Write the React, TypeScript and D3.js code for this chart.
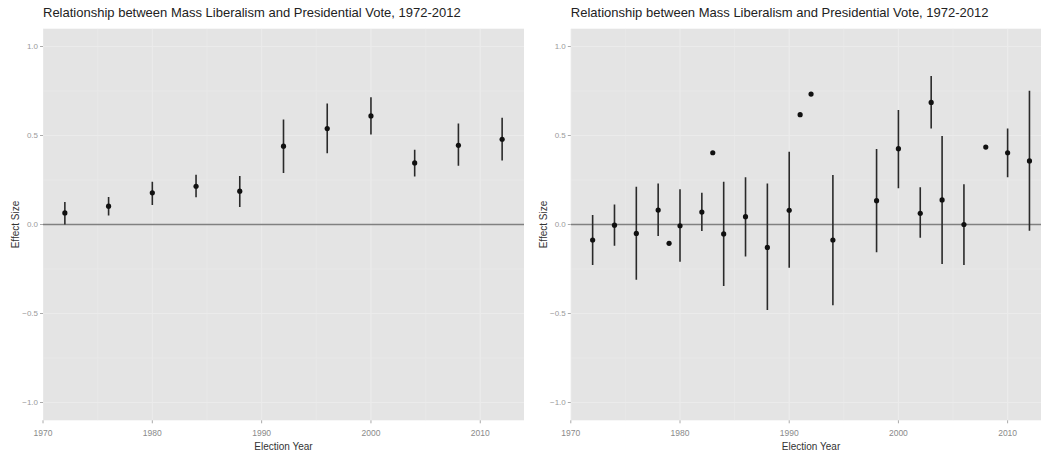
import React from "react";
import * as d3 from "d3";

// National-level estimates (presidential election years)
const leftYears = [1972, 1976, 1980, 1984, 1988, 1992, 1996, 2000, 2004, 2008, 2012];
const leftEst = [0.065, 0.103, 0.178, 0.215, 0.187, 0.44, 0.539, 0.61, 0.346, 0.445, 0.479];
const leftLow = [0.0, 0.05, 0.11, 0.153, 0.099, 0.29, 0.4, 0.506, 0.27, 0.33, 0.36];
const leftHigh = [0.127, 0.155, 0.24, 0.28, 0.273, 0.59, 0.68, 0.715, 0.42, 0.567, 0.6];

// Estimates by survey year; null bounds mean no interval was available
const rightYears = [1972, 1974, 1976, 1978, 1979, 1980, 1982, 1983, 1984, 1986, 1988, 1990, 1991, 1992, 1994, 1998, 2000, 2002, 2003, 2004, 2006, 2008, 2010, 2012];
const rightEst = [-0.087, -0.004, -0.05, 0.081, -0.106, -0.007, 0.07, 0.403, -0.053, 0.044, -0.129, 0.08, 0.617, 0.733, -0.087, 0.134, 0.426, 0.063, 0.686, 0.138, 0.0, 0.435, 0.403, 0.357];
const rightLow: (number | null)[] = [-0.228, -0.119, -0.31, -0.065, null, -0.209, -0.037, null, -0.345, -0.18, -0.48, -0.243, null, null, -0.454, -0.156, 0.203, -0.074, 0.54, -0.222, -0.228, null, 0.265, -0.035];
const rightHigh: (number | null)[] = [0.053, 0.113, 0.212, 0.231, null, 0.198, 0.179, null, 0.24, 0.265, 0.231, 0.409, null, null, 0.278, 0.424, 0.643, 0.209, 0.834, 0.497, 0.226, null, 0.54, 0.752];

const xTicks = [1970, 1980, 1990, 2000, 2010];
const yTicks = [-1.0, -0.5, 0.0, 0.5, 1.0];
const title = "Relationship between Mass Liberalism and Presidential Vote, 1972-2012";

const W = 1041;
const H = 455;
const FONT = "Liberation Sans, Arial, sans-serif";
const yScale = d3.scaleLinear().domain([-1.1, 1.1]).range([420.3, 28.7]);

type PanelProps = {
  x0: number;
  x1: number;
  years: number[];
  est: number[];
  low: (number | null)[];
  high: (number | null)[];
  clipId: string;
};

function Panel({ x0, x1, years, est, low, high, clipId }: PanelProps) {
  const xScale = d3.scaleLinear().domain([1970, 2014]).range([x0, x1]);
  const [yBottom, yTop] = yScale.range();
  const right = Math.min(x1, W);
  const minorX = [1975, 1985, 1995, 2005];
  const minorY = [-0.75, -0.25, 0.25, 0.75];
  const fmt = d3.format(".1f");
  return (
    <g>
      <defs>
        <clipPath id={clipId}>
          <rect x={x0} y={yTop} width={x1 - x0} height={yBottom - yTop} />
        </clipPath>
      </defs>
      <rect x={x0} y={yTop} width={right - x0} height={yBottom - yTop} fill="#e4e4e4" />
      <g clipPath={`url(#${clipId})`}>
        {minorX.map((t) => (
          <line key={"mx" + t} x1={xScale(t)} x2={xScale(t)} y1={yTop} y2={yBottom} stroke="#e8e8e8" strokeWidth={1} />
        ))}
        {minorY.map((t) => (
          <line key={"my" + t} x1={x0} x2={x1} y1={yScale(t)} y2={yScale(t)} stroke="#e8e8e8" strokeWidth={1} />
        ))}
        {xTicks.map((t) => (
          <line key={"gx" + t} x1={xScale(t)} x2={xScale(t)} y1={yTop} y2={yBottom} stroke="#ebebeb" strokeWidth={1.2} />
        ))}
        {yTicks.map((t) => (
          <line key={"gy" + t} x1={x0} x2={x1} y1={yScale(t)} y2={yScale(t)} stroke="#ebebeb" strokeWidth={1.2} />
        ))}
        <line x1={x0} x2={x1} y1={yScale(0)} y2={yScale(0)} stroke="#808080" strokeWidth={1.3} />
        {years.map((yr, i) => {
          const lo = low[i];
          const hi = high[i];
          return (
            <g key={yr}>
              {lo !== null && hi !== null && (
                <line x1={xScale(yr)} x2={xScale(yr)} y1={yScale(lo)} y2={yScale(hi)} stroke="#2a2a2a" strokeWidth={1.6} />
              )}
              <circle cx={xScale(yr)} cy={yScale(est[i])} r={2.6} fill="#111" />
            </g>
          );
        })}
      </g>
      {/* y axis */}
      {yTicks.map((t) => (
        <g key={"yt" + t}>
          <line x1={x0 - 3} x2={x0} y1={yScale(t)} y2={yScale(t)} stroke="#aaa" strokeWidth={1} />
          <text x={x0 - 5} y={yScale(t)} dy="0.35em" textAnchor="end" fontSize={8} fill="#9a9a9a" fontFamily={FONT}>
            {fmt(t)}
          </text>
        </g>
      ))}
      {/* x axis */}
      {xTicks.map((t) => (
        <g key={"xt" + t}>
          <line x1={xScale(t)} x2={xScale(t)} y1={yBottom} y2={yBottom + 3} stroke="#aaa" strokeWidth={1} />
          <text x={xScale(t)} y={yBottom + 16} textAnchor="middle" fontSize={8.5} fill="#8a8a8a" fontFamily={FONT}>
            {t}
          </text>
        </g>
      ))}
      <text x={(x0 + x1) / 2} y={450} textAnchor="middle" fontSize={10} fill="#333" fontFamily={FONT}>
        Election Year
      </text>
      <text
        transform={`translate(${x0 - 24},${yScale(0)}) rotate(-90)`}
        textAnchor="middle"
        fontSize={10}
        fill="#333"
        fontFamily={FONT}
      >
        Effect Size
      </text>
      <text x={x0} y={17} fontSize={13} fill="#222" fontFamily={FONT}>
        {title}
      </text>
    </g>
  );
}

export default function App() {
  return (
    <svg width={W} height={H} style={{ position: "absolute", left: 0, top: 0, background: "#fff" }}>
      <rect width={W} height={H} fill="#fff" />
      <Panel x0={43} x1={524} years={leftYears} est={leftEst} low={leftLow} high={leftHigh} clipId="clipL" />
      <Panel x0={570.8} x1={1051.3} years={rightYears} est={rightEst} low={rightLow} high={rightHigh} clipId="clipR" />
    </svg>
  );
}
